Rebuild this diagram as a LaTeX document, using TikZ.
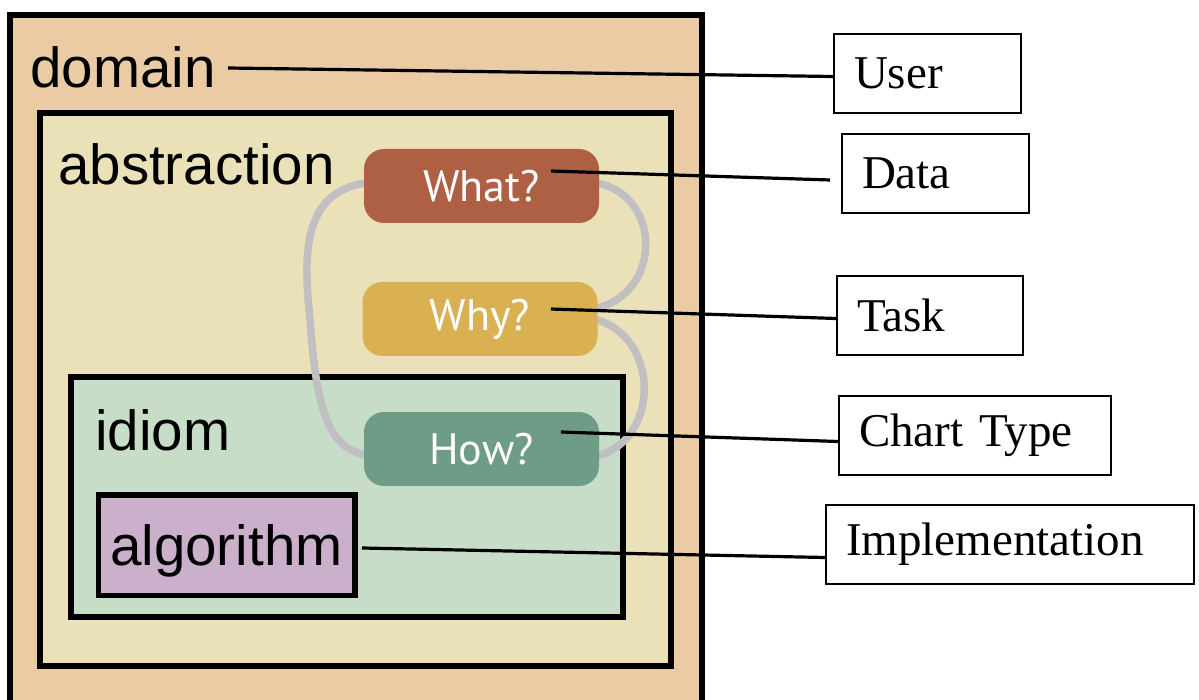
\documentclass[tikz,border=0pt]{standalone}
\usepackage{fontspec}
\setmainfont{Liberation Serif}
\setsansfont{Liberation Sans}
\newfontfamily\pillfont{PT Sans}

\definecolor{domainfill}{HTML}{EACBA3}
\definecolor{abstrfill}{HTML}{EAE1B9}
\definecolor{idiomfill}{HTML}{C7DDC7}
\definecolor{algofill}{HTML}{CBB0CC}
\definecolor{whatfill}{HTML}{AD6043}
\definecolor{whyfill}{HTML}{D9B152}
\definecolor{howfill}{HTML}{6E9C87}
\definecolor{loopgray}{HTML}{C0BFC1}

\begin{document}
\begin{tikzpicture}[x=1pt,y=-1pt,
  frame/.style={draw=black,line width=5.5pt},
  biglbl/.style={inner sep=0pt,font=\sffamily\fontsize{56.5}{60}\selectfont,anchor=base west},
  pill/.style={rounded corners=20pt,minimum width=235pt,minimum height=74pt,inner sep=0pt,
    text=white,font=\pillfont\fontsize{44}{48}\selectfont},
  loop/.style={draw=loopgray,line width=7.5pt},
  conn/.style={draw=black,line width=3.2pt},
  lbl/.style={draw=black,line width=2pt,anchor=north west,minimum height=79pt,
    inner xsep=20pt,inner ysep=0pt,align=left,font=\fontsize{47}{50}\selectfont}]
\useasboundingbox (0,0) rectangle (1199,700);
\clip (0,0) rectangle (1199,700);

% nested scopes of the model
\draw[frame,fill=domainfill] (10,15) rectangle (702,730);
\draw[frame,fill=abstrfill] (40,113) rectangle (671,666);
\draw[frame,fill=idiomfill] (71,377) rectangle (623,617);
\draw[frame,fill=algofill] (98.5,495) rectangle (355,595.5);

\node[biglbl] (domainlbl) at (30,88) {domain};
\node[biglbl] (abstrlbl) at (58,185) {abstraction};
\node[biglbl] (idiomlbl) at (95,450) {idiom};
\node[biglbl] (algolbl) at (110,565) {algorithm};

% grey loop linking the three questions
\draw[loop] (366,183) .. controls (300,192) and (304,260) .. (310,320)
            .. controls (316,400) and (325,448) .. (366,455);
\draw[loop] (597,183) .. controls (662,196) and (662,292) .. (597,308);
\draw[loop] (597,320) .. controls (660,338) and (660,440) .. (597,456);

% the three questions
\node[pill,fill=whatfill] (what) at (481.5,186) {What?};
\node[pill,fill=whyfill] (why) at (480,319) {Why?};
\node[pill,fill=howfill] (how) at (481.5,449) {How?};

% labels on the right
\node[lbl,text width=147pt] (user) at (833,33) {User};
\node[lbl,text width=147pt] (data) at (841,133) {Data};
\node[lbl,text width=146pt] (task) at (836,275) {Task};
\node[lbl,text width=232pt] (chart) at (838,395) {Chart Type};
\node[lbl,text width=328pt] (impl) at (825,504) {Implementation};

% connector start points
\coordinate (cDomain) at (228,68);
\coordinate (cWhat) at (551,171);
\coordinate (cWhy) at (551,309);
\coordinate (cHow) at (561,432);
\coordinate (cAlgo) at (362,548);
\coordinate (cDataEnd) at (830,180);

\draw[conn] (cDomain) -- ([yshift=-3pt]user.west);
\draw[conn] (cWhat) -- (cDataEnd);
\draw[conn] (cWhy) -- ([yshift=-3pt]task.west);
\draw[conn] (cHow) -- ([yshift=-6pt]chart.west);
\draw[conn] (cAlgo) -- ([yshift=-13pt]impl.west);
\end{tikzpicture}
\end{document}
